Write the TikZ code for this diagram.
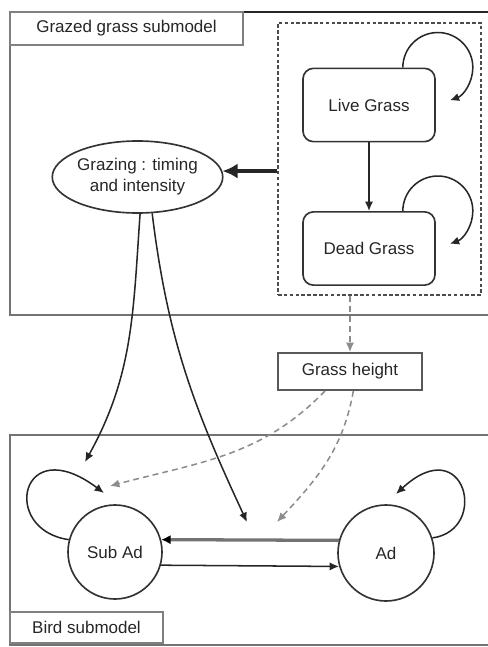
\documentclass[tikz,border=0pt]{standalone}
\usepackage{fontspec}
\setmainfont{Liberation Sans}
\usetikzlibrary{arrows.meta, shapes.geometric}

\begin{document}
\begin{tikzpicture}[x=0.03cm, y=-0.03cm,
    every node/.style={font=\fontsize{14.5}{18}\selectfont, text=black!85},
    frame/.style={draw=black!55, line width=1.6pt},
    tag/.style={draw=black!50, line width=1.2pt, inner sep=0pt},
    grassbox/.style={draw=black!80, line width=1.4pt, rounded corners=9pt, minimum width=3.96cm, minimum height=2.2cm},
    state/.style={circle, draw=black!80, line width=1.4pt, inner sep=0pt},
    link/.style={draw=black!85, line width=1.3pt, -{Latex[length=8pt,width=7pt]}},
    hint/.style={draw=black!45, line width=1.3pt, dash pattern=on 5pt off 3.5pt, -{Latex[length=8pt,width=7pt]}}
  ]
    % --- 1. 畫布範圍 ---
    \useasboundingbox (0,0) rectangle (488,647);
    \clip (0,0) rectangle (488,647);

    % --- 2. 兩個子模型外框與標題 ---
    \draw[frame] (490,315) -- (10,315) -- (10,12);
    \draw[black!85, line width=2.2pt] (10,12) -- (490,12);
    \draw[frame] (490,435) -- (10,435) -- (10,645) -- (490,645);
    \node[tag, minimum width=6.99cm, minimum height=0.99cm] (grazedtag) at (126.5,28.5) {Grazed grass submodel};
    \node[tag, minimum width=4.59cm, minimum height=0.93cm] (birdtag) at (86.5,627.5) {Bird submodel};

    % --- 3. 草地狀態 Live / Dead ---
    \node[draw=black!70, line width=1.6pt, dash pattern=on 3pt off 2pt, minimum width=6.09cm, minimum height=8.16cm, inner sep=0pt] (grassmodel) at (379.5,159) {};
    \node[grassbox] (live) at (369,105) {Live Grass};
    \node[grassbox] (dead) at (369,248.5) {Dead Grass};
    \draw[link] (live) -- (dead);
    \draw[link] ([xshift=-0.99cm]live.north east) arc[start angle=180, end angle=430, radius=35];
    \draw[link] ([xshift=-0.99cm]dead.north east) arc[start angle=180, end angle=430, radius=35];

    % --- 4. 放牧：時間與強度 ---
    \node[ellipse, draw=black!80, line width=1.4pt, minimum width=4.95cm, minimum height=2.16cm, align=center, inner sep=0pt] (graze) at (137.5,177) {Grazing : timing\\and intensity};
    \draw[black!85, line width=3.5pt, -{Latex[length=13pt,width=13pt]}] (grassmodel.west |- graze.4) -- (graze.4);

    % --- 5. 草高 ---
    \node[tag, draw=black!65, line width=1.6pt, minimum width=4.32cm, minimum height=1.11cm] (height) at (350,371.5) {Grass height};
    \draw[hint] (grassmodel.south -| height.north) -- (height.north);

    % --- 6. 鳥類狀態 Sub Ad / Ad ---
    \node[state, minimum size=2.82cm] (subad) at (115,552) {Sub Ad};
    \node[state, minimum size=2.88cm] (ad) at (386,553) {Ad};
    \draw[link, draw=black!55, line width=2.8pt, -{Latex[length=8pt,width=8pt,black]}] (ad.165) -- (subad.15);
    \draw[link] (subad.-16) -- (ad.196);
    \coordinate (subadloop) at (104,493);
    \draw[link] (subad.165) .. controls (0,530) and (20,430) .. (subadloop);
    \coordinate (adloop) at (396,494);
    \draw[link] (ad.18) .. controls (490,530) and (465,430) .. (adloop);

    % --- 7. 放牧與草高對鳥類的影響 ---
    \coordinate (subadin) at (85,462);
    \coordinate (mid1) at (247,522);
    \coordinate (midin) at (110,486);
    \coordinate (mid2) at (277,522);
    \draw[link] (graze.-86) to[out=-94, in=61] (subadin);
    \draw[link] (graze.-68) to[out=-83, in=115] (mid1);
    \draw[hint] ([xshift=-0.75cm]height.south) to[out=-134, in=15] (midin);
    \draw[hint] ([xshift=0.1cm]height.south) to[out=-100, in=47] (mid2);
  \end{tikzpicture}
\end{document}
